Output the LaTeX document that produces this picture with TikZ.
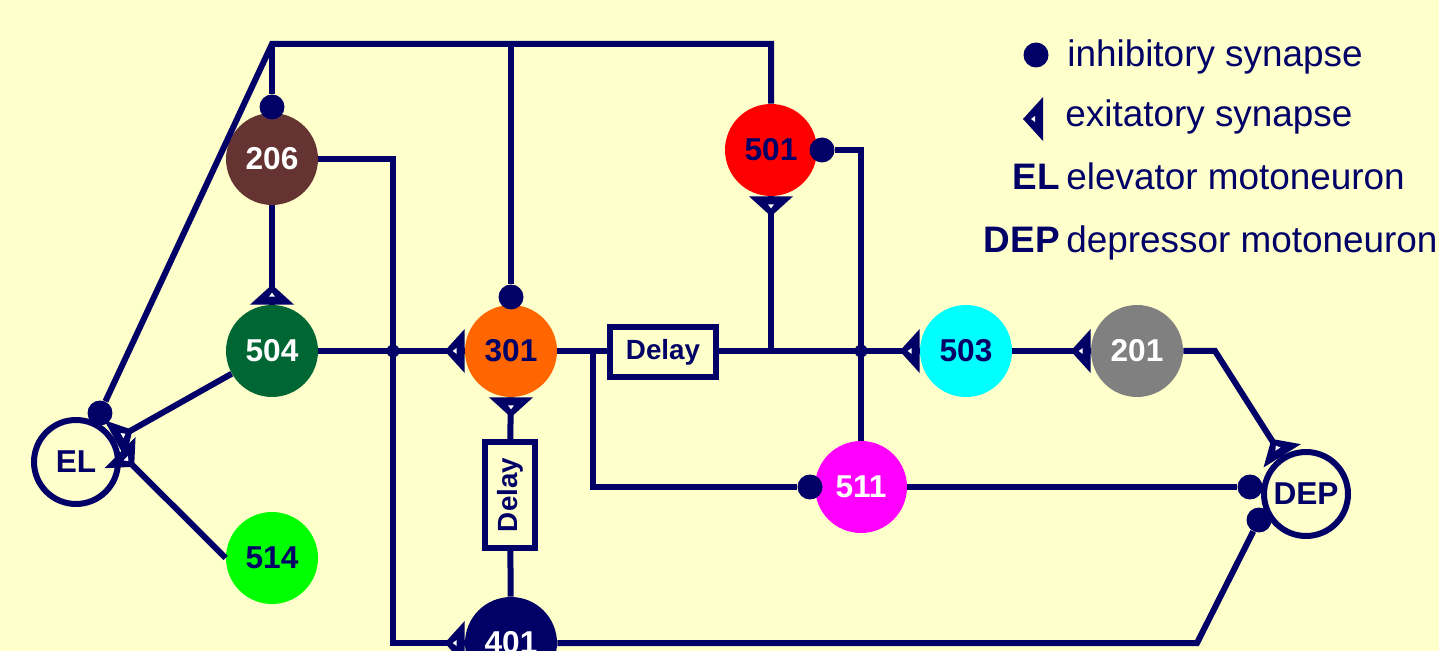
\documentclass[tikz,border=0pt]{standalone}
\usepackage{fontspec}
\setmainfont{Liberation Sans}
\usetikzlibrary{positioning}
\definecolor{nrnNavy}{HTML}{000066}
\definecolor{nrnPaper}{HTML}{FFFFCC}
\definecolor{nrnBrown}{HTML}{663333}
\definecolor{nrnForest}{HTML}{006633}
\definecolor{nrnOrange}{HTML}{FF6600}
\definecolor{nrnGray}{HTML}{808080}
\definecolor{nrnRed}{HTML}{FF0000}
\definecolor{nrnLime}{HTML}{00FF00}
\definecolor{nrnCyan}{HTML}{00FFFF}
\definecolor{nrnPink}{HTML}{FF00FF}

\begin{document}
\begin{tikzpicture}[x=0.02cm, y=-0.02cm,
  cell/.style={circle, fill=#1, minimum size=1.84cm, inner sep=0pt, text=nrnNavy,
    font=\bfseries\fontsize{18}{20}\selectfont},
  motor/.style={circle, draw=nrnNavy, line width=0.12cm, fill=nrnPaper, minimum size=1.68cm,
    inner sep=0pt, text=nrnNavy, font=\bfseries\fontsize{18}{20}\selectfont},
  delaybox/.style={draw=nrnNavy, line width=0.12cm, fill=nrnPaper, minimum width=2.12cm,
    minimum height=1cm, inner sep=0pt, text=nrnNavy, font=\bfseries\fontsize{15.8}{18}\selectfont},
  wire/.style={draw=nrnNavy, line width=0.12cm},
  inh/.style={circle, fill=nrnNavy, minimum size=0.5cm, inner sep=0pt},
  joint/.style={circle, fill=nrnNavy, minimum size=0.26cm, inner sep=0pt},
  legtext/.style={inner sep=0pt, text=nrnNavy, font=\fontsize{21}{24}\selectfont},
  legkey/.style={inner sep=0pt, text=nrnNavy, font=\bfseries\fontsize{21}{24}\selectfont},
  excsyn/.pic={
    \fill[nrnNavy] (0,-22) -- (-20,0) -- (0,22) -- cycle;
    \fill[white] (-12,0) -- (-8,-3) -- (-8,3) -- cycle;
  }
]
\fill[nrnPaper] (0,0) rectangle (1439,651);
\useasboundingbox (0,0) rectangle (1439,651);

% neurons
\node[cell=nrnBrown, text=white] (n206) at (272,159) {206};
\node[cell=nrnForest, text=white] (n504) at (272,351) {504};
\node[cell=nrnLime] (n514) at (272,558) {514};
\node[cell=nrnOrange] (n301) at (511,351) {301};
\node[cell=nrnRed] (n501) at (771,150) {501};
\node[cell=nrnCyan] (n503) at (966,351) {503};
\node[cell=nrnGray, text=white] (n201) at (1137,351) {201};
\node[cell=nrnPink, text=white] (n511) at (861,487) {511};
\node[cell=nrnNavy, text=white] (n401) at (511,643) {401};
\node[motor] (el) at (76,462) {EL};
\node[motor] (dep) at (1306,494) {DEP};

% delays
\node[delaybox] (delayA) at (663,352) {Delay};
\node[delaybox, rotate=90] (delayB) at (510,495) {Delay};

% inhibitory synapses
\node[inh] (iEL) at (100,413) {};
\node[inh] (i206) at (272,107) {};
\node[inh] (i301) at (511,297) {};
\node[inh] (i501) at (822,150) {};
\node[inh] (i511) at (810,487) {};
\node[inh] (iDep1) at (1250,487) {};
\node[inh] (iDep2) at (1259,520) {};

\coordinate (topL) at (272,44);
\coordinate (topM) at (511,44);
\coordinate (j504) at (393,351);
\coordinate (jD) at (593,351);
\coordinate (j501) at (771,351);
\coordinate (j511) at (861,351);
\coordinate (c201) at (1215,351);
\coordinate (c401) at (1197,643);

% connections
\draw[wire] (iEL) -- (topL) -| (n501);
\draw[wire] (topL) -- (i206);
\draw[wire] (topM) -- (i301);
\draw[wire] (n206) -| (j504) |- (n401);
\draw[wire] (n206) -- (n504);
\draw[wire] (n504) -- (j504) -- (n301);
\draw[wire] (el.30) -- (n504);
\draw[wire] (el.12) -- (n514.west);
\draw[wire] (n301) -- (delayA.west |- jD);
\draw[wire] (delayA.east |- jD) -- (n503);
\draw[wire] (j501) -- (n501);
\draw[wire] (n301) -- (delayB);
\draw[wire] (delayB) -- (n401);
\draw[wire] (jD) |- (i511);
\draw[wire] (i501) -| (n511);
\draw[wire] (n503) -- (n201);
\draw[wire] (n201) -- (c201) -- (dep);
\draw[wire] (n511) -- (iDep1);
\draw[wire] (n401) -- (c401) -- (iDep2);

\node[joint] at (j504) {};
\node[joint] at (j511) {};

% excitatory synapses
\pic at (n301.west) {excsyn};
\pic at (n401.west) {excsyn};
\pic at (n503.west) {excsyn};
\pic at (n201.west) {excsyn};
\pic[rotate=-90] at (n504.north) {excsyn};
\pic[rotate=90] at (n501.south) {excsyn};
\pic[rotate=90] at (n301.south) {excsyn};
\pic[rotate=-151] at (el.30) {excsyn};
\pic[rotate=135] at (el.12) {excsyn};
\pic[rotate=-58] at (dep.122) {excsyn};

% legend
\node[inh] (legInh) at (1036,55) {};
\node[legtext, anchor=base west] (legInhText) at (1067,67) {inhibitory synapse};
\pic at (1043,119) {excsyn};
\node[legtext, anchor=base west] (legExcText) at (1065,127) {exitatory synapse};
\node[legkey, anchor=base east] (legEL) at (1060,190) {EL};
\node[legtext, anchor=base west] (legELText) at (1066,190) {elevator motoneuron};
\node[legkey, anchor=base east] (legDEP) at (1060,253) {DEP};
\node[legtext, anchor=base west] (legDEPText) at (1066,253) {depressor motoneuron};
\end{tikzpicture}
\end{document}
